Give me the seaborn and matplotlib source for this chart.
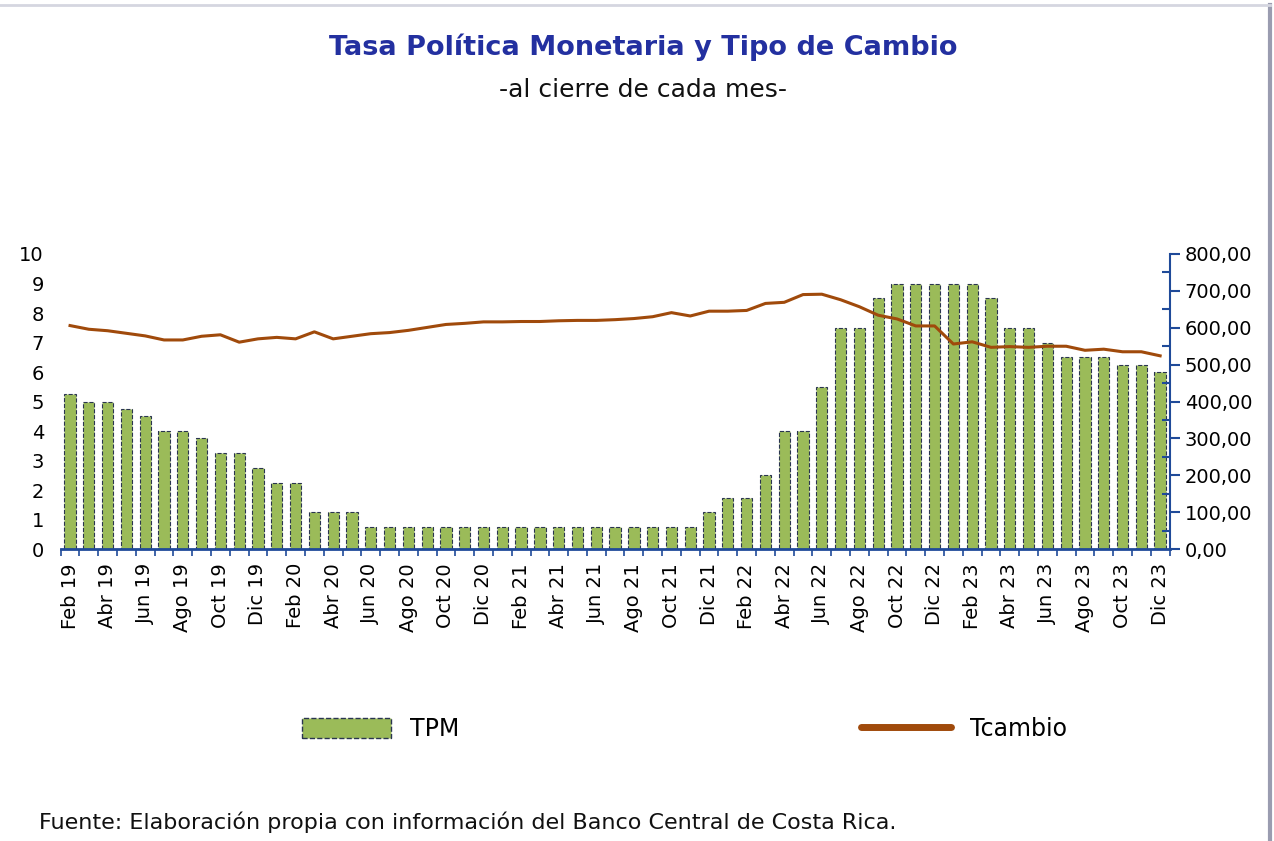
import pandas as pd
import numpy as np
import matplotlib.pyplot as plt
import seaborn as sns
from matplotlib.patches import Patch
from matplotlib.lines import Line2D
from matplotlib.ticker import MultipleLocator, FuncFormatter

# Data: monthly values, Feb 2019 - Dec 2023
meses = ['Feb 19', 'Mar 19', 'Abr 19', 'May 19', 'Jun 19', 'Jul 19', 'Ago 19', 'Set 19', 'Oct 19', 'Nov 19', 'Dic 19',
         'Ene 20', 'Feb 20', 'Mar 20', 'Abr 20', 'May 20', 'Jun 20', 'Jul 20', 'Ago 20', 'Set 20', 'Oct 20', 'Nov 20', 'Dic 20',
         'Ene 21', 'Feb 21', 'Mar 21', 'Abr 21', 'May 21', 'Jun 21', 'Jul 21', 'Ago 21', 'Set 21', 'Oct 21', 'Nov 21', 'Dic 21',
         'Ene 22', 'Feb 22', 'Mar 22', 'Abr 22', 'May 22', 'Jun 22', 'Jul 22', 'Ago 22', 'Set 22', 'Oct 22', 'Nov 22', 'Dic 22',
         'Ene 23', 'Feb 23', 'Mar 23', 'Abr 23', 'May 23', 'Jun 23', 'Jul 23', 'Ago 23', 'Set 23', 'Oct 23', 'Nov 23', 'Dic 23']

tpm = [5.25, 5.00, 5.00, 4.75, 4.50, 4.00, 4.00, 3.75, 3.25, 3.25, 2.75,
       2.25, 2.25, 1.25, 1.25, 1.25, 0.75, 0.75, 0.75, 0.75, 0.75, 0.75, 0.75,
       0.75, 0.75, 0.75, 0.75, 0.75, 0.75, 0.75, 0.75, 0.75, 0.75, 0.75, 1.25,
       1.75, 1.75, 2.50, 4.00, 4.00, 5.50, 7.50, 7.50, 8.50, 9.00, 9.00, 9.00,
       9.00, 9.00, 8.50, 7.50, 7.50, 7.00, 6.50, 6.50, 6.50, 6.25, 6.25, 6.00]

tcambio = [606, 596, 592, 585, 578, 567, 567, 577, 581, 561, 570,
           574, 570, 589, 570, 577, 584, 587, 593, 601, 609, 612, 616,
           616, 617, 617, 619, 620, 620, 622, 625, 630, 641, 632, 645,
           645, 647, 666, 669, 690, 691, 676, 657, 634, 624, 605, 605,
           556, 562, 547, 549, 547, 550, 550, 539, 542, 535, 535, 524]

df = pd.DataFrame({'mes': meses, 'TPM': tpm, 'Tcambio': tcambio})
df['pos'] = np.arange(len(df))

bar_color = '#9BBB59'
line_color = '#A04A0B'
axis_color = '#1F4A99'
title_color = '#2330A0'

plt.rcParams['font.family'] = ['DejaVu Sans']

fig = plt.figure(figsize=(12.74, 8.41), dpi=100)
ax = fig.add_axes([0.0476, 0.347, 0.8704, 0.351])

# Bars (TPM)
sns.barplot(data=df, x='pos', y='TPM', ax=ax, color=bar_color, saturation=1,
            width=0.6, edgecolor='#2A3550', linewidth=0.8, linestyle='--')
ax.set_xlim(-0.5, len(df) - 0.5)
ax.set_ylim(0, 10)
ax.yaxis.set_major_locator(MultipleLocator(1))
ax.tick_params(axis='y', length=0, labelsize=14, pad=12)
ax.set_xticks(df['pos'])
ax.set_xticklabels([m if i % 2 == 0 else '' for i, m in enumerate(meses)], rotation=90, fontsize=14)
ax.set_xticks(np.arange(-0.5, len(df), 1), minor=True)
ax.tick_params(axis='x', which='major', length=0, pad=10)
ax.tick_params(axis='x', which='minor', length=5, width=1.2, color=axis_color, direction='out')
ax.set_xlabel('')
ax.set_ylabel('')
for side in ['top', 'right', 'left']:
    ax.spines[side].set_visible(False)
ax.spines['bottom'].set_color(axis_color)
ax.spines['bottom'].set_linewidth(2)

# Line (tipo de cambio) on right axis
ax2 = ax.twinx()
sns.lineplot(data=df, x='pos', y='Tcambio', ax=ax2, color=line_color, linewidth=2.2)
ax2.set_ylim(0, 800)
ax2.set_xlim(-0.5, len(df) - 0.5)
ax2.yaxis.set_major_locator(MultipleLocator(100))
ax2.yaxis.set_minor_locator(MultipleLocator(50))
ax2.yaxis.set_major_formatter(FuncFormatter(lambda v, p: f'{v:.2f}'.replace('.', ',')))
ax2.tick_params(axis='y', which='major', length=7, width=1.5, color=axis_color, direction='out', labelsize=14, pad=4)
ax2.tick_params(axis='y', which='minor', length=6, width=1.5, color=axis_color, direction='in')
ax2.set_ylabel('')
ax2.set_xlabel('')
for side in ['top', 'left', 'bottom']:
    ax2.spines[side].set_visible(False)
ax2.spines['right'].set_color(axis_color)
ax2.spines['right'].set_linewidth(1.5)

# Titles and source
fig.text(0.505, 0.944, 'Tasa Política Monetaria y Tipo de Cambio', ha='center', va='center',
         fontsize=19.5, fontweight='bold', color=title_color)
fig.text(0.505, 0.893, '-al cierre de cada mes-', ha='center', va='center', fontsize=18, color='#111111')
fig.text(0.031, 0.022, 'Fuente: Elaboración propia con información del Banco Central de Costa Rica.',
         ha='left', va='center', fontsize=16, color='#111111')

# Legend
handles = [Patch(facecolor=bar_color, edgecolor='#2A3550', linestyle='--', linewidth=1.0, label='TPM'),
           Line2D([0], [0], color=line_color, linewidth=5, solid_capstyle='round', label='Tcambio')]
fig.legend(handles=handles, loc='center', bbox_to_anchor=(0.537, 0.133), ncol=2, frameon=False,
           fontsize=17, handlelength=3.8, handleheight=0.9, columnspacing=17, handletextpad=0.8)

# Light frame shadow on top and right edges
fig.add_artist(Line2D([0.997, 0.997], [0, 0.994], transform=fig.transFigure, color='#9A9CB0', linewidth=3))
fig.add_artist(Line2D([0, 0.997], [0.994, 0.994], transform=fig.transFigure, color='#D5D6E0', linewidth=2))

plt.savefig('out.png', dpi=100)
